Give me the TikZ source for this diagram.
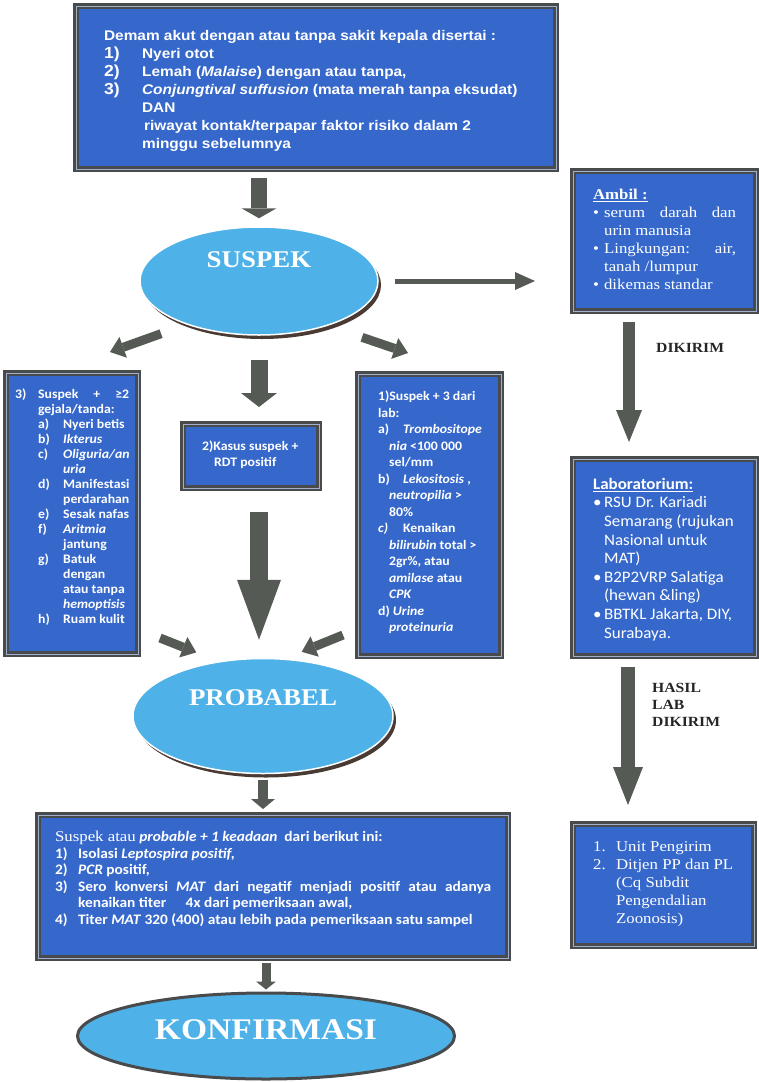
\documentclass[tikz,border=0pt]{standalone}
\usepackage{fontspec}
\setmainfont{Liberation Serif}
\newfontfamily\arialfont[FakeStretch=1.1]{Liberation Sans}
\newfontfamily\calibrifont[FakeStretch=1.06]{Carlito}
\newfontfamily\timesfont[FakeStretch=1.12]{Liberation Serif}
\usetikzlibrary{shapes.geometric,shadows,arrows.meta,calc}

\definecolor{boxblue}{RGB}{54,104,204}
\definecolor{ovalblue}{RGB}{78,178,232}
\definecolor{arrowgray}{RGB}{86,90,84}
\definecolor{framegray}{RGB}{72,74,76}
\definecolor{framelight}{RGB}{160,176,205}
\definecolor{shadowdark}{RGB}{74,58,52}

% numbered line with hanging indent
\newcommand{\nomor}[3]{\par\hangindent=#1\hangafter=1\makebox[#1][l]{#2}#3}
% sub item a), b), ... in the left box
\newcommand{\butir}[2]{\par\hangindent=48pt\hangafter=1\hspace*{23pt}\makebox[25pt][l]{#1}#2}

\begin{document}
\begin{tikzpicture}[x=1pt,y=-1pt,
    bluebox/.style={draw=framegray, line width=2.2pt, double=framelight, double distance=1pt,
        fill=boxblue, text=white, anchor=north west},
    oval/.style={ellipse, fill=ovalblue, inner sep=0pt},
    ovalshadow/.style={draw=white, line width=1.5pt,
        drop shadow={shadow xshift=3pt, shadow yshift=-4pt, fill=shadowdark, opacity=1}},
    ovalring/.style={draw=framegray, line width=3pt},
    ovaltext/.style={text=white, inner sep=0pt, font=\timesfont\bfseries\fontsize{24}{28}\selectfont},
    arrowlabel/.style={text=black!85, inner sep=0pt, font=\timesfont\bfseries\fontsize{14}{17}\selectfont},
    blockarrow/.style n args={3}{draw=arrowgray, line width=#1,
        -{Triangle[width=#2, length=#3, line width=0pt]}}]
    \useasboundingbox (0,0) rectangle (759,1082);
    % Gejala
    \node[bluebox, inner xsep=28pt, inner ysep=24pt] (demam) at (75,5) {\parbox[c][115pt][t]{424pt}{\arialfont\bfseries\fontsize{14}{18}\selectfont\raggedright
        Demam akut dengan atau tanpa sakit kepala disertai :\\
        \makebox[38pt][l]{\fontsize{16}{18}\selectfont 1)}Nyeri otot\\
        \makebox[38pt][l]{\fontsize{16}{18}\selectfont 2)}Lemah (\textit{Malaise}) dengan atau tanpa,\\
        \makebox[38pt][l]{\fontsize{16}{18}\selectfont 3)}\textit{Conjungtival suffusion} (mata merah tanpa eksudat)\\
        \hspace*{38pt}DAN\\
        \hspace*{40pt}riwayat kontak/terpapar faktor risiko dalam 2\\
        \hspace*{38pt}minggu sebelumnya}};
    % Suspek
    \node[oval, ovalshadow, minimum width=238pt, minimum height=108pt] (suspek) at (259,281) {};
    \node[ovaltext] (suspekteks) at (259,260) {SUSPEK};
    \draw[blockarrow={16pt}{35pt}{10pt}, shorten <=8pt, shorten >=8pt] (suspek.north |- demam.south) -- (suspek.north);
    % Ambil
    \node[bluebox, inner xsep=20pt, inner ysep=18pt] (ambil) at (572,170) {\parbox[c][104pt][t]{143pt}{\timesfont\fontsize{15}{18}\selectfont
        \underline{\textbf{Ambil :}}
        \nomor{11pt}{\textbullet}{serum darah dan\linebreak urin manusia}
        \nomor{11pt}{\textbullet}{Lingkungan: air,\linebreak tanah /lumpur}
        \nomor{11pt}{\textbullet}{dikemas standar}}};
    \draw[blockarrow={5pt}{18pt}{20pt}, shorten <=16pt, shorten >=37pt] (suspek.east) -- (suspek.east -| ambil.west);
    % Laboratorium
    \node[bluebox, inner xsep=20pt, inner ysep=19pt] (lab) at (572,458) {\parbox[c][159pt][t]{143pt}{\calibrifont\fontsize{16}{18.6}\selectfont\raggedright
        \underline{\textbf{Laboratorium:}}
        \nomor{11pt}{\textbullet}{RSU Dr. Kariadi\newline Semarang (rujukan\newline Nasional untuk\newline MAT)}
        \nomor{11pt}{\textbullet}{B2P2VRP Salatiga\newline (hewan \&ling)}
        \nomor{11pt}{\textbullet}{BBTKL Jakarta, DIY,\newline Surabaya.}}};
    \draw[blockarrow={12pt}{26pt}{32pt}, shorten <=10pt, shorten >=16pt] ([xshift=57pt]ambil.south west) -- ([xshift=57pt]lab.north west);
    \node[arrowlabel, anchor=west] (dikirim) at (656,348) {DIKIRIM};
    % Tujuan hasil
    \node[bluebox, inner xsep=20pt, inner ysep=17pt] (tujuan) at (572,823) {\parbox[c][88pt][t]{141pt}{\timesfont\fontsize{15}{18}\selectfont\raggedright
        \nomor{23pt}{1.}{Unit Pengirim}
        \nomor{23pt}{2.}{Ditjen PP dan PL\newline (Cq Subdit\newline Pengendalian\newline Zoonosis)}}};
    \draw[blockarrow={14pt}{30pt}{38pt}, shorten <=10pt, shorten >=18pt] ([xshift=56pt]lab.south west) -- ([xshift=56pt]tujuan.north west);
    \node[arrowlabel, anchor=north west, align=left] (hasil) at (652,683) {HASIL\\LAB\\DIKIRIM};
    % Kriteria 3
    \node[bluebox, inner xsep=9pt, inner ysep=16pt] (klinis) at (5,372) {\parbox[c][249pt][t]{114pt}{\calibrifont\bfseries\fontsize{13}{15}\selectfont\raggedright
        \nomor{23pt}{3)}{Suspek\hfill+\hfill≥2\newline gejala/tanda:}
        \butir{a)}{Nyeri betis}
        \butir{b)}{\textit{Ikterus}}
        \butir{c)}{\textit{Oliguria/an}\newline\textit{uria}}
        \butir{d)}{Manifestasi\newline perdarahan}
        \butir{e)}{Sesak nafas}
        \butir{f)}{\textit{Aritmia}\newline jantung}
        \butir{g)}{Batuk\newline dengan\newline atau tanpa\newline\textit{hemoptisis}}
        \butir{h)}{Ruam kulit}}};
    % Kriteria 2
    \node[bluebox, inner xsep=19pt, inner ysep=17pt] (rdt) at (182,423) {\parbox[c][30pt][t]{98pt}{\calibrifont\bfseries\fontsize{13}{16}\selectfont\raggedright
        \mbox{2)Kasus suspek +}\\ \hspace*{12pt}RDT positif}};
    % Kriteria 1
    \node[bluebox, inner xsep=20pt, inner ysep=17pt] (laborat) at (357,373) {\parbox[c][248pt][t]{103pt}{\calibrifont\bfseries\fontsize{13}{16.5}\selectfont\raggedright
        1)Suspek + 3 dari\newline lab:
        \par\hangindent=11pt\hangafter=1\makebox[25pt][l]{a)}\textit{Trombositope}\newline\textit{nia} <100 000\newline sel/mm
        \par\hangindent=11pt\hangafter=1\makebox[25pt][l]{b)}\textit{Lekositosis} ,\newline\textit{neutropilia} >\newline 80\%
        \par\hangindent=11pt\hangafter=1\makebox[25pt][l]{\textit{c)}}Kenaikan\newline\textit{bilirubin} total >\newline 2gr\%, atau\newline\textit{amilase} atau\newline\textit{CPK}
        \par\hangindent=11pt\hangafter=1 d) \textit{Urine}\newline\textit{proteinuria}}};
    % Suspek -> kriteria
    \coordinate (kekiri) at (110,352);
    \coordinate (kekanan) at (408,353);
    \draw[blockarrow={9pt}{22pt}{14pt}, shorten <=27pt] (suspek.211) -- (kekiri);
    \draw[blockarrow={9pt}{22pt}{14pt}, shorten <=36pt] (suspek.327) -- (kekanan);
    \draw[blockarrow={17pt}{36pt}{14pt}, shorten <=24pt, shorten >=16pt] (suspek.south) -- (suspek.south |- rdt.north);
    % Probabel
    \node[oval, ovalshadow, minimum width=260pt, minimum height=115pt] (probabel) at (263,716) {};
    \node[ovaltext] (probabelteks) at (263,698) {PROBABEL};
    \coordinate (darikiri) at (160,638);
    \coordinate (darikanan) at (343,635);
    \draw[blockarrow={9pt}{22pt}{14pt}, shorten >=24pt] (darikiri) -- (probabel.129);
    \draw[blockarrow={9pt}{22pt}{14pt}, shorten >=18pt] (darikanan) -- (probabel.69);
    \draw[blockarrow={18pt}{44pt}{60pt}, shorten <=23pt, shorten >=18pt] (suspek.south |- rdt.south) -- (suspek.south |- probabel.north);
    % Konfirmasi
    \node[bluebox, inner xsep=17pt, inner ysep=16pt] (konfirm) at (37,814) {\parbox[c][111pt][t]{436pt}{\calibrifont\bfseries\fontsize{14.5}{16.6}\selectfont
        {\timesfont\mdseries\fontsize{15}{16.6}\selectfont Suspek atau} \textit{probable + 1 keadaan}\ \ dari berikut ini:
        \nomor{23pt}{1)}{Isolasi \textit{Leptospira positif,}}
        \nomor{23pt}{2)}{\textit{PCR} positif,}
        \nomor{23pt}{3)}{Sero konversi \textit{MAT} dari negatif menjadi positif atau adanya\linebreak kenaikan titer\hspace{16pt} 4x dari pemeriksaan awal,}
        \nomor{23pt}{4)}{Titer \textit{MAT} 320 (400) atau lebih pada pemeriksaan satu sampel}}};
    \draw[blockarrow={10pt}{24pt}{10pt}, shorten <=6pt, shorten >=5pt] (probabel.south) -- (probabel.south |- konfirm.north);
    \node[oval, ovalring, minimum width=377pt, minimum height=86pt] (konfirmasi) at (266,1036) {};
    \node[ovaltext, font=\timesfont\bfseries\fontsize{30}{34}\selectfont] (konfirmasiteks) at (266,1030) {KONFIRMASI};
    \draw[blockarrow={9pt}{20pt}{8pt}, shorten <=4pt, shorten >=2pt] (konfirmasi.north |- konfirm.south) -- (konfirmasi.north);
\end{tikzpicture}
\end{document}
